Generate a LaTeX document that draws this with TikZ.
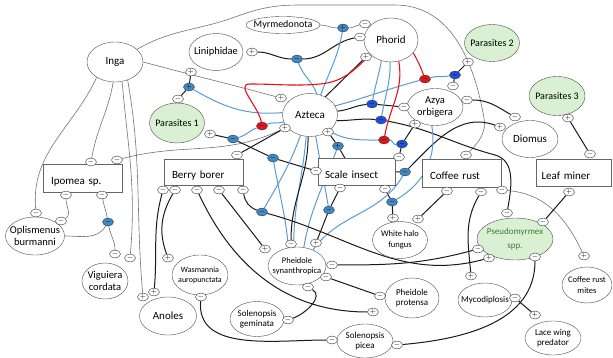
\documentclass[tikz,border=0pt]{standalone}
\usepackage{fontspec}
\setmainfont{Carlito}
\usetikzlibrary{shapes.geometric}

\definecolor{paragreen}{HTML}{D9F1D2}
\definecolor{linkblue}{HTML}{5B9BD5}
\definecolor{darkblue}{HTML}{1F4FE0}
\definecolor{midblue}{HTML}{3F8AC6}
\definecolor{linkred}{HTML}{E3131B}
\definecolor{txtgreen}{HTML}{3C7A3C}

\pgfdeclarelayer{bg}
\pgfsetlayers{bg,main}

\tikzset{
  sp/.style={ellipse, draw=black!70, fill=white, inner xsep=-12pt, inner ysep=-5pt, align=center, font=\fontsize{10.5}{11.5}\selectfont},
  para/.style={sp, fill=paragreen},
  box/.style={rectangle, draw=black!60, fill=white, minimum width=79pt, minimum height=28pt, text width=64pt, align=left, text height=14pt, text depth=0pt, font=\fontsize{11}{12}\selectfont},
  sgn/.style={ellipse, draw=black!80, fill=white, inner sep=0pt, minimum width=11pt, minimum height=8pt, font=\fontsize{7.5}{7.5}\selectfont},
  sgnd/.style={sgn, fill=darkblue},
  sgnl/.style={sgn, fill=midblue},
  sgnr/.style={sgn, fill=linkred},
  gl/.style={draw=black!55, line width=0.6pt},
  kl/.style={draw=black!90, line width=1pt},
  bl/.style={draw=linkblue, line width=1pt},
  rl/.style={draw=linkred, line width=1.1pt},
}

\begin{document}
\begin{tikzpicture}[x=1pt,y=-1pt]
	\useasboundingbox (0,0) rectangle (613,358);
	
	% species, top half
	\node[sp, minimum width=56, minimum height=40, font=\fontsize{11}{12}\selectfont] (inga) at (115,62) {Inga};
	\node[sp, minimum width=54, minimum height=37] (lini) at (216,52) {Liniphidae};
	\node[sp, minimum width=74, minimum height=17, font=\fontsize{10}{11}\selectfont] (myrm) at (283,25) {Myrmedonota};
	\node[sp, minimum width=54, minimum height=44, font=\fontsize{11}{12}\selectfont] (phorid) at (391,40) {Phorid};
	\node[para, minimum width=55, minimum height=37, font=\fontsize{10}{11}\selectfont] (para2) at (492,43) {Parasites 2};
	\node[para, minimum width=55, minimum height=40, font=\fontsize{10}{11}\selectfont] (para1) at (177,123) {Parasites 1};
	\node[sp, minimum width=55, minimum height=43, font=\fontsize{11}{12}\selectfont] (azteca) at (310,115) {Azteca};
	\node[sp, minimum width=56, minimum height=37] (azya) at (435,107) {Azya\\orbigera};
	\node[para, minimum width=56, minimum height=39, font=\fontsize{10}{11}\selectfont] (para3) at (557,96) {Parasites 3};
	\node[sp, minimum width=56, minimum height=37, font=\fontsize{11}{12}\selectfont] (diomus) at (530,139) {Diomus};
	
	% boxes
	\node[box] (ipomea) at (83,178) {Ipomea sp.};
	\node[box, minimum height=26] (berry) at (204,172) {Berry borer};
	\node[box, minimum width=77, minimum height=27] (scale) at (357,172) {Scale insect};
	\node[box] (rust) at (462,173) {Coffee rust};
	\node[box, minimum width=75, minimum height=27] (miner) at (573.5,173) {Leaf miner};
	
	% species, bottom half
	\node[sp, minimum width=59, minimum height=38] (oplis) at (35,236) {Oplismenus\\burmanni};
	\node[sp, minimum width=46, minimum height=36] (vigu) at (105,281) {Viguiera\\cordata};
	\node[sp, minimum width=57, minimum height=38, font=\fontsize{11}{12}\selectfont] (anoles) at (168,316) {Anoles};
	\node[sp, minimum width=56, minimum height=40, font=\fontsize{8}{10}\selectfont] (wasm) at (200,275) {Wasmannia\\auropunctata};
	\node[sp, minimum width=58, minimum height=38, font=\fontsize{8.5}{10.5}\selectfont] (phsyn) at (297,266) {Pheidole\\synanthropica};
	\node[sp, minimum width=55, minimum height=37, font=\fontsize{8.5}{10.5}\selectfont] (halo) at (400,240) {White halo\\fungus};
	\node[para, minimum width=76, minimum height=42, font=\fontsize{9}{14}\selectfont, text=txtgreen] (pseudo) at (515,239) {Pseudomyrmex\\spp.};
	\node[sp, minimum width=50, minimum height=36, font=\fontsize{8.5}{10.5}\selectfont] (mites) at (587,285) {Coffee rust\\mites};
	\node[sp, minimum width=54, minimum height=40, font=\fontsize{9}{10.5}\selectfont] (phprot) at (412,298) {Pheidole\\protensa};
	\node[sp, minimum width=54, minimum height=34, font=\fontsize{9}{10.5}\selectfont] (myco) at (485,300) {Mycodiplosis};
	\node[sp, minimum width=54, minimum height=35, font=\fontsize{9}{10.5}\selectfont] (solgem) at (257,319) {Solenopsis\\geminata};
	\node[sp, minimum width=56, minimum height=34, font=\fontsize{9}{10.5}\selectfont] (solpic) at (365,341) {Solenopsis\\picea};
	\node[sp, minimum width=56, minimum height=34, font=\fontsize{9}{10.5}\selectfont] (lace) at (553,338) {Lace wing\\predator};
	
	% sign markers at the ends of links
	\node[sgn] (cr1) at (466,155) {$-$};
	\node[sgn] (a1) at (281,98) {$+$};
	\node[sgn] (ip1) at (91,162) {$-$};
	\node[sgn] (op1) at (36,213) {$-$};
	\node[sgn] (vg1) at (130,258) {$-$};
	\node[sgn] (an1) at (143,297) {$+$};
	\node[sgn] (ip2) at (66,195) {$-$};
	\node[sgn] (op2) at (61,221) {$-$};
	\node[sgn] (ip3) at (102,195) {$-$};
	\node[sgn] (vg2) at (115,254) {$-$};
	\node[sgn] (ip4) at (117,160) {$-$};
	\node[sgn] (bb0) at (237,155) {$-$};
	\node[sgn] (a2) at (285,128) {$+$};
	\node[sgn] (li1) at (252,52) {$+$};
	\node[sgn] (ph1) at (360,37) {$-$};
	\node[sgn] (ph2) at (365,24) {$-$};
	\node[sgn] (p1a) at (178,99) {$-$};
	\node[sgn] (li2) at (191,72) {$+$};
	\node[sgn] (p1b) at (210,134) {$+$};
	\node[sgn] (si1) at (316,171) {$-$};
	\node[sgn] (phA) at (366,57) {$+$};
	\node[sgn] (p2a) at (468,62) {$+$};
	\node[sgn] (az1) at (453,86) {$-$};
	\node[sgn] (si2) at (399,157) {$-$};
	\node[sgn] (az2) at (415,124) {$+$};
	\node[sgn] (az3) at (404,107) {$-$};
	\node[sgn] (ps1) at (507,213) {$-$};
	\node[sgn] (az4) at (467,100) {$-$};
	\node[sgn] (dm1) at (515,117) {$-$};
	\node[sgn] (dm2) at (500,127) {$+$};
	\node[sgn] (p3) at (568,118) {$+$};
	\node[sgn] (lm2) at (590,154) {$-$};
	\node[sgn] (si5) at (385,189) {$-$};
	\node[sgn] (wh2) at (393,218) {$+$};
	\node[sgn] (a3) at (328,132) {$+$};
	\node[sgn] (pa) at (291,244) {$-$};
	\node[sgn] (pb) at (316,243) {$+$};
	\node[sgn] (si4) at (340,188) {$-$};
	\node[sgn] (pc) at (265,249) {$+$};
	\node[sgn] (bb3) at (219,190) {$-$};
	\node[sgn] (pd) at (332,265) {$-$};
	\node[sgn] (ps2) at (478,249) {$-$};
	\node[sgn] (pe) at (326,277) {$-$};
	\node[sgn] (pp1) at (380,296) {$-$};
	\node[sgn] (pf) at (308,287) {$-$};
	\node[sgn] (sg1) at (288,320) {$-$};
	\node[sgn] (bb1) at (163,190) {$-$};
	\node[sgn] (an2) at (154,292) {$+$};
	\node[sgn] (bb2) at (175,190) {$-$};
	\node[sgn] (wa1) at (168,258) {$+$};
	\node[sgn] (bb4) at (197,190) {$-$};
	\node[sgn] (pp2) at (373,312) {$+$};
	\node[sgn] (bb5) at (243,190) {$-$};
	\node[sgn] (ps3) at (489,258) {$+$};
	\node[sgn] (wa2) at (201,297) {$-$};
	\node[sgn] (sp1) at (332,340) {$-$};
	\node[sgn] (sp2) at (397,345) {$-$};
	\node[sgn] (ps4) at (535,257) {$-$};
	\node[sgn] (cr2) at (447,191) {$-$};
	\node[sgn] (wh1) at (418,219) {$+$};
	\node[sgn] (cr3) at (481,192) {$-$};
	\node[sgn] (my1) at (471,276) {$+$};
	\node[sgn] (cr4) at (502,190) {$-$};
	\node[sgn] (cm1) at (584,256) {$+$};
	\node[sgn] (lm1) at (569,192) {$+$};
	\node[sgn] (ps5) at (543,222) {$-$};
	\node[sgn] (my2) at (515,298) {$-$};
	\node[sgn] (lw1) at (535,315) {$+$};
	
	% markers sitting on other links
	\node[sgnl] (i1) at (108,222) {$-$};
	\node[sgnl] (i2) at (297,59) {$-$};
	\node[sgnl] (i3) at (343,28) {$+$};
	\node[sgnl] (i4) at (189,87) {$+$};
	\node[sgnl] (i6) at (233,139) {$-$};
	\node[sgnl] (i5) at (273,158) {$-$};
	\node[sgnr] (r1) at (262,126) {$-$};
	\node[sgnr] (r2) at (425,79) {$-$};
	\node[sgnr] (r3) at (384,140) {$-$};
	\node[sgnd] (i7) at (455,75) {$-$};
	\node[sgnd] (i8) at (402,144) {$-$};
	\node[sgnd] (i9) at (372,104) {$-$};
	\node[sgnd] (i10) at (381,120) {$-$};
	\node[sgnl] (i11) at (405,172) {$-$};
	\node[sgnl] (i14) at (392,202) {$-$};
	\node[sgnl] (i15) at (338,146) {$+$};
	\node[sgnl] (i12) at (329,210) {$-$};
	\node[sgnl] (i13) at (262,212) {$-$};
	
	\begin{pgfonlayer}{bg}
	% Inga and the plants
	\draw[gl] (inga.30) to[out=30,in=200] (235,17) to[out=20,in=180] (300,5) -- (395,5) to[out=0,in=100] (484,118) to[out=-80,in=45] (cr1);
	\draw[gl] (inga.east) to[out=-15,in=165] (a1);
	\draw[gl] (inga.265) to[out=-100,in=80] (ip1);
	\draw[gl] (inga.220) to[out=-115,in=95] (op1);
	\draw[gl] (inga.290) to[out=-85,in=85] (vg1);
	\draw[gl] (inga.305) to[out=-80,in=95] (an1);
	\draw[gl] (ip2) to[out=-90,in=30] (op2);
	\draw[gl] (ip3) to[out=-80,in=100] (i1) to[out=-80,in=90] (vg2);
	\draw[gl] (oplis.east) to[out=0,in=-120] (i1);
	\draw[gl] (ip4) to[out=15,in=205] (a2);
	\draw[kl] (bb0) -- (a2);
	
	% top links
	\draw[kl] (li1) to[out=0,in=180] (i2) to[out=0,in=190] (ph1);
	\draw[gl] (myrm.east) to[out=0,in=180] (i3) to[out=0,in=190] (ph2);
	\draw[kl] (p1a) -- (i4) -- (li2);
	\draw[kl] (p1b) -- (i6) -- (i5) -- (si1);
	\draw[kl] (azteca.50) -- (phA);
	\draw[kl] (p2a) -- (i7) -- (az1);
	\draw[kl] (si2) -- (i8) -- (az2);
	\draw[kl] (azteca.8) to[out=5,in=185] (i9) -- (az3);
	\draw[kl] (azteca.-12) to[out=0,in=175] (i10) to[out=-10,in=165] (495,155) to[out=-15,in=80] (ps1);
	\draw[kl] (az4) to[out=0,in=150] (dm1);
	\draw[kl] (scale.east) -- (i11) to[out=45,in=160] (dm2);
	\draw[kl] (p3) -- (lm2);
	\draw[kl] (a3) -- (i15) -- ([xshift=-12pt]scale.north);
	\draw[kl] (si5) -- (i14) -- (wh2);
	
	% blue links from Azteca and Phorid
	\draw[bl] (azteca.175) to[out=185,in=-30] (i4);
	\draw[bl] (azteca.195) to[out=195,in=20] (r1) to[out=200,in=15] (i6);
	\draw[bl] (azteca.72) to[out=110,in=-70] (i2);
	\draw[bl] (azteca.62) to[out=70,in=-100] (i3);
	\draw[bl] (azteca.20) to[out=15,in=195] (r2) to[out=15,in=190] (i7);
	\draw[bl] (azteca.-40) to[out=-30,in=180] (r3) to[out=0,in=190] (i8);
	\draw[bl] (phorid.245) to[out=-100,in=80] (i9);
	\draw[bl] (phorid.268) to[out=-90,in=80] (i10);
	\draw[bl] (azteca.-75) to[out=-80,in=100] (i12);
	\draw[bl] (azteca.-115) to[out=-110,in=60] (i13);
	\draw[bl] (phsyn.100) to[out=90,in=-95] (azteca.-100);
	\draw[bl] (phsyn.115) to[out=95,in=-80] (i5);
	\draw[bl] (phsyn.70) to[out=80,in=-110] (i15);
	\draw[bl] (phsyn.45) to[out=55,in=-120] (i11);
	\draw[bl] (azya.-100) to[out=-80,in=30] (i14);
	
	% red links from Phorid
	\draw[rl] (phorid.215) to[out=-135,in=5] (320,84) to[out=185,in=0] (250,84) to[out=180,in=100] (r1);
	\draw[rl] (phorid.-30) to[out=-60,in=110] (r2);
	\draw[rl] (phorid.290) to[out=-80,in=80] (r3);
	
	% lower links
	\draw[kl] (azteca.-95) to[out=-90,in=90] (pa);
	\draw[kl] (si4) -- (i12) -- (pb);
	\draw[kl] (bb3) -- (pc);
	\draw[kl] (bb1) to[out=-105,in=85] (an2);
	\draw[kl] (bb2) to[out=-120,in=110] (wa1);
	\draw[kl] (bb4) to[out=-65,in=180] (pp2);
	\draw[kl] (bb5) to[out=-80,in=160] (i13) to[out=-15,in=195] (ps3);
	\draw[kl] (pd) to[out=0,in=195] (ps2);
	\draw[kl] (pe) -- (pp1);
	\draw[kl] (pf) to[out=-30,in=20] (sg1);
	\draw[kl] (wa2) to[out=-95,in=180] (sp1);
	\draw[kl] (sp2) to[out=5,in=-90] (ps4);
	\draw[kl] (cr2) -- (wh1);
	\draw[kl] (cr3) to[out=-120,in=95] (my1);
	\draw[gl] (cr4) to[out=-5,in=115] (cm1);
	\draw[kl] (lm1) -- (ps5);
	\draw[kl] (my2) -- (lw1);
	\end{pgfonlayer}
\end{tikzpicture}
\end{document}
